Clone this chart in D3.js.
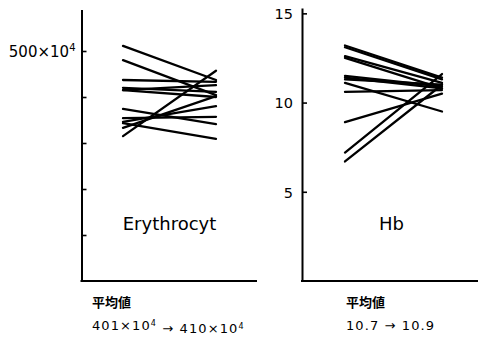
<!DOCTYPE html>
<html>
<head>
<meta charset="utf-8">
<script src="https://cdn.jsdelivr.net/npm/d3@7"></script>
<style>
  body { margin: 0; background: #fff; }
  svg { display: block; font-family: "DejaVu Sans", sans-serif; }
</style>
</head>
<body>
<svg id="chart" width="480" height="339"></svg>
<script>
// Paired values: before -> after, one line per patient
const erythBefore = [511, 480, 437, 420, 415, 415, 374, 354, 346, 333, 315, 343];
const erythAfter  = [437, 404, 433, 411, 400, 426, 341, 357, 380, 402, 457, 309];
const hbBefore = [13.2, 13.1, 12.6, 12.5, 11.5, 11.4, 11.3, 11.1, 10.6, 8.9, 7.2, 6.7];
const hbAfter  = [11.4, 11.3, 11.1, 10.8, 10.9, 10.8, 11.0, 9.5, 10.7, 10.5, 11.6, 11.0];

const erythTicks = [100, 200, 300, 400, 500];
const erythLabelled = [500];
const hbTicks = [5, 10, 15];

const meanLabel = "平均値";
const erythMean = ["401", "410"];
const hbMean = ["10.7", "10.9"];

const svg = d3.select("#chart");

/**********************/
/*  Panel definitions  */
/**********************/
const panels = [
  {
    name: "Erythrocyt",
    before: erythBefore, after: erythAfter,
    y: d3.scaleLinear().domain([0, 590]).range([281, 9.6]),
    x: d3.scalePoint().domain(["before", "after"]).range([123, 216]),
    axisX: 81.5, axisEnd: 257,
    ticks: erythTicks, pad: 6,
    format: d => erythLabelled.includes(d) ? d : "",
    labelX: 169.5
  },
  {
    name: "Hb",
    before: hbBefore, after: hbAfter,
    y: d3.scaleLinear().domain([0, 15.3]).range([281, 8]),
    x: d3.scalePoint().domain(["before", "after"]).range([345, 442]),
    axisX: 302, axisEnd: 478,
    ticks: hbTicks, pad: 9,
    format: d => d,
    labelX: 391.5
  }
];

panels.forEach(p => {

  const g = svg.append("g");

  // y axis, ticks pointing inward
  const yAxis = g.append("g")
    .attr("transform", `translate(${p.axisX},0)`)
    .call(d3.axisLeft(p.y)
      .tickValues(p.ticks)
      .tickSizeInner(-5)
      .tickSizeOuter(0)
      .tickPadding(p.pad)
      .tickFormat(p.format));

  yAxis.select(".domain").attr("stroke", "#000").attr("stroke-width", 2);
  yAxis.selectAll(".tick line").attr("stroke", "#000").attr("stroke-width", 1.6);
  yAxis.selectAll(".tick text")
    .attr("fill", "#000")
    .attr("font-size", 14.5)
    .attr("font-family", "DejaVu Sans, sans-serif")
    .attr("dy", "0.36em");

  // x baseline
  g.append("line")
    .attr("x1", p.axisX - 1).attr("x2", p.axisEnd)
    .attr("y1", p.y(0)).attr("y2", p.y(0))
    .attr("stroke", "#000").attr("stroke-width", 2);

  // paired lines
  g.selectAll(".pair")
    .data(p.before.map((b, i) => [b, p.after[i]]))
    .join("line")
      .attr("class", "pair")
      .attr("x1", p.x("before"))
      .attr("x2", p.x("after"))
      .attr("y1", d => p.y(d[0]))
      .attr("y2", d => p.y(d[1]))
      .attr("stroke", "#000")
      .attr("stroke-width", 2.3)
      .attr("stroke-linecap", "round");

  g.append("text")
    .attr("x", p.labelX).attr("y", 230)
    .attr("text-anchor", "middle")
    .attr("font-size", 18)
    .text(p.name);

});

// superscript on the labelled erythrocyte tick
svg.selectAll(".tick text")
  .filter(function () { return this.textContent === "500"; })
  .each(function () {
    const t = d3.select(this).text("").attr("font-size", 15);
    t.append("tspan").text("500×10");
    t.append("tspan").attr("font-size", 10).attr("dy", "-0.55em").text("4");
  });

/*******************/
/*  Mean captions  */
/*******************/
const caption = (x, parts, sup) => {

  svg.append("text")
    .attr("x", x).attr("y", 307)
    .attr("font-family", "Noto Sans CJK JP, sans-serif")
    .attr("font-weight", "bold")
    .attr("font-size", 13)
    .text(meanLabel);

  const t = svg.append("text")
    .attr("x", x).attr("y", 330)
    .attr("font-size", 13)
    .attr("letter-spacing", 1.1);

  parts.forEach((v, i) => {
    if (i > 0) t.append("tspan").attr("dy", sup ? "0.5em" : 0).text(" → ");
    t.append("tspan").attr("dy", i > 0 && sup ? 0 : null).text(sup ? `${v}×10` : v);
    if (sup) t.append("tspan").attr("font-size", 8).attr("dy", "-0.5em").text("4");
  });

};

caption(92, erythMean, true);
caption(346, hbMean, false);
</script>
</body>
</html>
